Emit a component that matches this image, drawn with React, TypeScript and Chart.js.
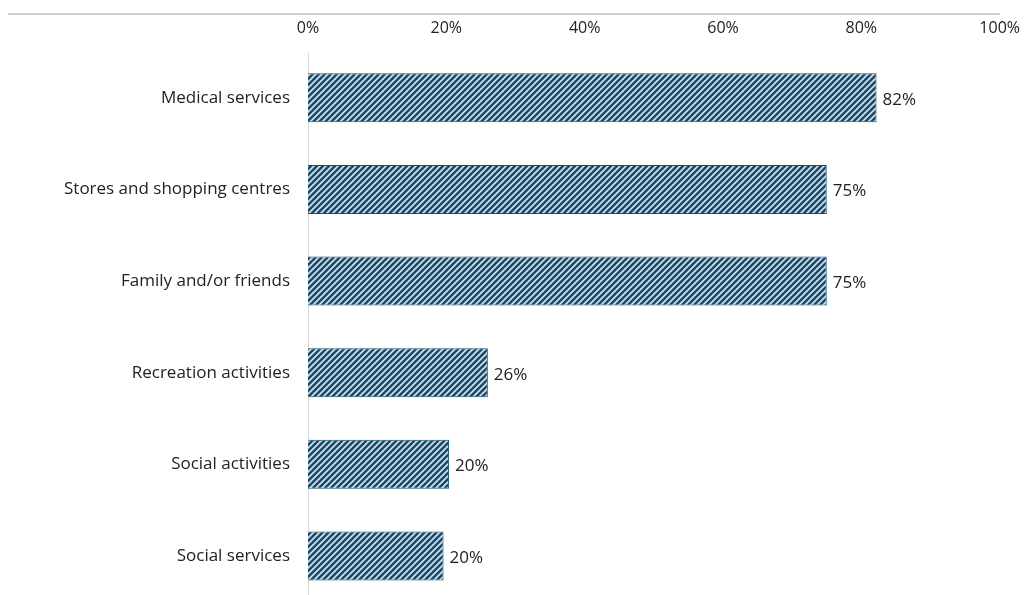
import React, { useEffect, useRef } from "react";
import { Chart, registerables } from "chart.js";

Chart.register(...registerables);

const categories = [
  "Medical services",
  "Stores and shopping centres",
  "Family and/or friends",
  "Recreation activities",
  "Social activities",
  "Social services",
];
const values = [82.2, 75, 75, 26, 20.4, 19.6];
const valueLabels = ["82%", "75%", "75%", "26%", "20%", "20%"];
const xTicks = [0, 20, 40, 60, 80, 100];

const FONT = "'Open Sans', 'Noto Sans', sans-serif";
const DARK = "#184b6c";

function makePattern(): CanvasPattern | string {
  const size = 6;
  const c = document.createElement("canvas");
  c.width = size;
  c.height = size;
  const ctx = c.getContext("2d");
  if (!ctx) return DARK;
  ctx.fillStyle = DARK;
  ctx.fillRect(0, 0, size, size);
  ctx.strokeStyle = "#d6e4ec";
  ctx.lineWidth = 1.6;
  ctx.beginPath();
  for (let k = -1; k <= 1; k++) {
    ctx.moveTo(k * size - 1, size + 1);
    ctx.lineTo(k * size + size + 1, -1);
  }
  ctx.stroke();
  const p = ctx.createPattern(c, "repeat");
  return p || DARK;
}

export default function App() {
  const ref = useRef<HTMLCanvasElement | null>(null);

  useEffect(() => {
    document.body.style.margin = "0";
    const canvas = ref.current;
    if (!canvas) return;
    const pattern = makePattern();

    const labelPlugin = {
      id: "valueLabels",
      afterDatasetsDraw(chart: any) {
        const ctx = chart.ctx;
        const meta = chart.getDatasetMeta(0);
        ctx.save();
        ctx.font = `17px ${FONT}`;
        ctx.fillStyle = "#222";
        ctx.textAlign = "left";
        ctx.textBaseline = "middle";
        meta.data.forEach((bar: any, i: number) => {
          ctx.fillText(valueLabels[i], bar.x + 6, bar.y + 2);
        });
        ctx.restore();
      },
    };

    const chart = new Chart(canvas, {
      type: "bar",
      data: {
        labels: categories,
        datasets: [
          {
            data: values,
            backgroundColor: pattern as any,
            borderColor: DARK,
            borderWidth: 1,
            barPercentage: 0.535,
            categoryPercentage: 1,
          },
        ],
      },
      options: {
        indexAxis: "y",
        animation: false,
        responsive: false,
        maintainAspectRatio: false,
        layout: { padding: { left: 0, right: 20, top: 0, bottom: 0 } },
        plugins: {
          legend: { display: false },
          tooltip: { enabled: false },
        },
        scales: {
          x: {
            position: "top",
            min: 0,
            max: 100,
            afterFit(scale: any) {
              scale.height = 52;
            },
            afterBuildTicks(scale: any) {
              scale.ticks = xTicks.map((v) => ({ value: v }));
            },
            grid: { display: false, drawTicks: false },
            border: { display: false },
            ticks: {
              padding: 14,
              color: "#222",
              font: { family: FONT, size: 16 },
              callback: (v: any) => `${v}%`,
              maxRotation: 0,
            },
          },
          y: {
            afterFit(scale: any) {
              scale.width = 308;
            },
            grid: { display: false, drawTicks: false },
            border: { display: true, color: "#d9d9d9", width: 1 },
            ticks: {
              padding: 18,
              color: "#222",
              font: { family: FONT, size: 17 },
            },
          },
        },
      },
      plugins: [labelPlugin],
    });
    return () => chart.destroy();
  }, []);

  return (
    <div style={{ position: "relative", width: 1027, height: 595, overflow: "hidden", background: "#fff" }}>
      <div style={{ position: "absolute", left: 8, top: 13, width: 992, height: 2, background: "#cfcfcf" }} />
      <canvas ref={ref} width={1034} height={630} style={{ position: "absolute", left: 0, top: 0, width: 1034, height: 630 }} />
    </div>
  );
}
